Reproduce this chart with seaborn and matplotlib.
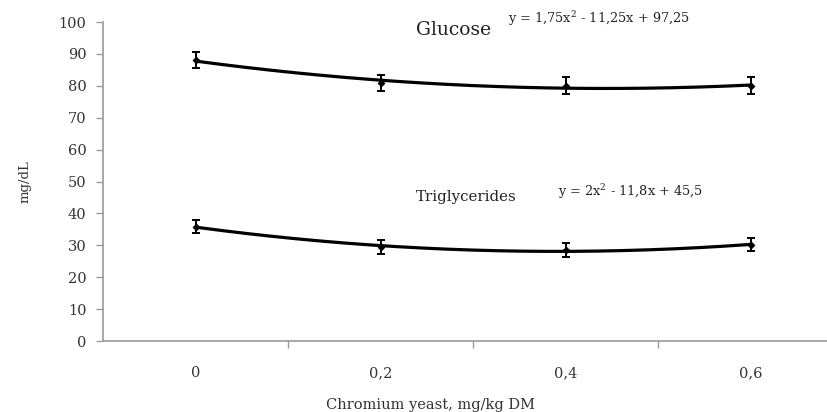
import numpy as np
import pandas as pd
import seaborn as sns
import matplotlib.pyplot as plt

# ============================
# DATA
# ============================
DOSES = ["0", "0,2", "0,4", "0,6"]
GLUCOSE = [88.0, 81.0, 80.0, 80.0]
GLUCOSE_ERR = [2.5, 2.5, 2.7, 2.7]
TRIGLYCERIDES = [35.8, 29.6, 28.4, 30.2]
TRIG_ERR = [2.0, 2.2, 2.2, 2.0]
Y_TICKS = [0, 10, 20, 30, 40, 50, 60, 70, 80, 90, 100]

GLUCOSE_EQ = "y = 1,75x$^2$ - 11,25x + 97,25"
TRIG_EQ = "y = 2x$^2$ - 11,8x + 45,5"

sns.set_theme(style="white")
plt.rcParams["font.family"] = ["DejaVu Serif"]
plt.rcParams["mathtext.fontset"] = "dejavuserif"

df = pd.DataFrame({
    "pos": np.arange(len(DOSES)),
    "glucose": GLUCOSE,
    "glucose_err": GLUCOSE_ERR,
    "trig": TRIGLYCERIDES,
    "trig_err": TRIG_ERR,
})

fig = plt.figure(figsize=(8.27, 4.12), dpi=100)
ax = fig.add_axes([0.1245, 0.1723, 0.8755, 0.7743])

grey = "#9a9a9a"
txt = "#333333"

for col, err in [("glucose", "glucose_err"), ("trig", "trig_err")]:
    # polynomial trendline (order 2), like the spreadsheet one
    coef = np.polyfit(df["pos"] + 1, df[col], 2)
    xs = np.linspace(df["pos"].min(), df["pos"].max(), 200)
    trend = pd.DataFrame({"x": xs, "y": np.polyval(coef, xs + 1)})
    sns.lineplot(data=trend, x="x", y="y", ax=ax, color="black", lw=2.3)
    ax.errorbar(df["pos"], df[col], yerr=df[err], fmt="none",
                ecolor="black", elinewidth=1.4, capsize=3.2, capthick=1.4)
    sns.scatterplot(data=df, x="pos", y=col, ax=ax, marker="D", s=14,
                    color="black", edgecolor="black", zorder=5)

ax.set_xlim(-0.5, 3.41)
ax.set_ylim(0, 100)
ax.set_yticks(Y_TICKS)
ax.set_yticklabels([str(v) for v in Y_TICKS], fontsize=10.5, color=txt)
ax.set_xticks(df["pos"])
ax.set_xticklabels(DOSES, fontsize=10.5, color=txt)
ax.set_xticks([0.5, 1.5, 2.5], minor=True)
ax.tick_params(axis="x", which="major", length=0, pad=18)
ax.tick_params(axis="x", which="minor", length=5, color=grey, width=1,
               direction="out", bottom=True)
ax.tick_params(axis="y", length=5, color=grey, width=1, direction="out",
               left=True, pad=7)

ax.set_xlabel("Chromium yeast, mg/kg DM", fontsize=10.5, color=txt)
ax.set_ylabel("mg/dL", fontsize=9.5, color=txt)
ax.xaxis.set_label_coords(0.452, -0.18)
ax.yaxis.set_label_coords(-0.098, 0.5)

for side in ["top", "right"]:
    ax.spines[side].set_visible(False)
for side in ["left", "bottom"]:
    ax.spines[side].set_color(grey)
    ax.spines[side].set_linewidth(1.2)

ax.text(1.19, 97.5, "Glucose", fontsize=13.5, color="#222222", va="center")
ax.text(1.69, 101, GLUCOSE_EQ, fontsize=9.3, color="#222222", va="center")
ax.text(1.19, 45, "Triglycerides", fontsize=10.8, color="#222222", va="center")
ax.text(1.96, 46.7, TRIG_EQ, fontsize=9.3, color="#222222", va="center")

fig.savefig("out.png", dpi=100)
